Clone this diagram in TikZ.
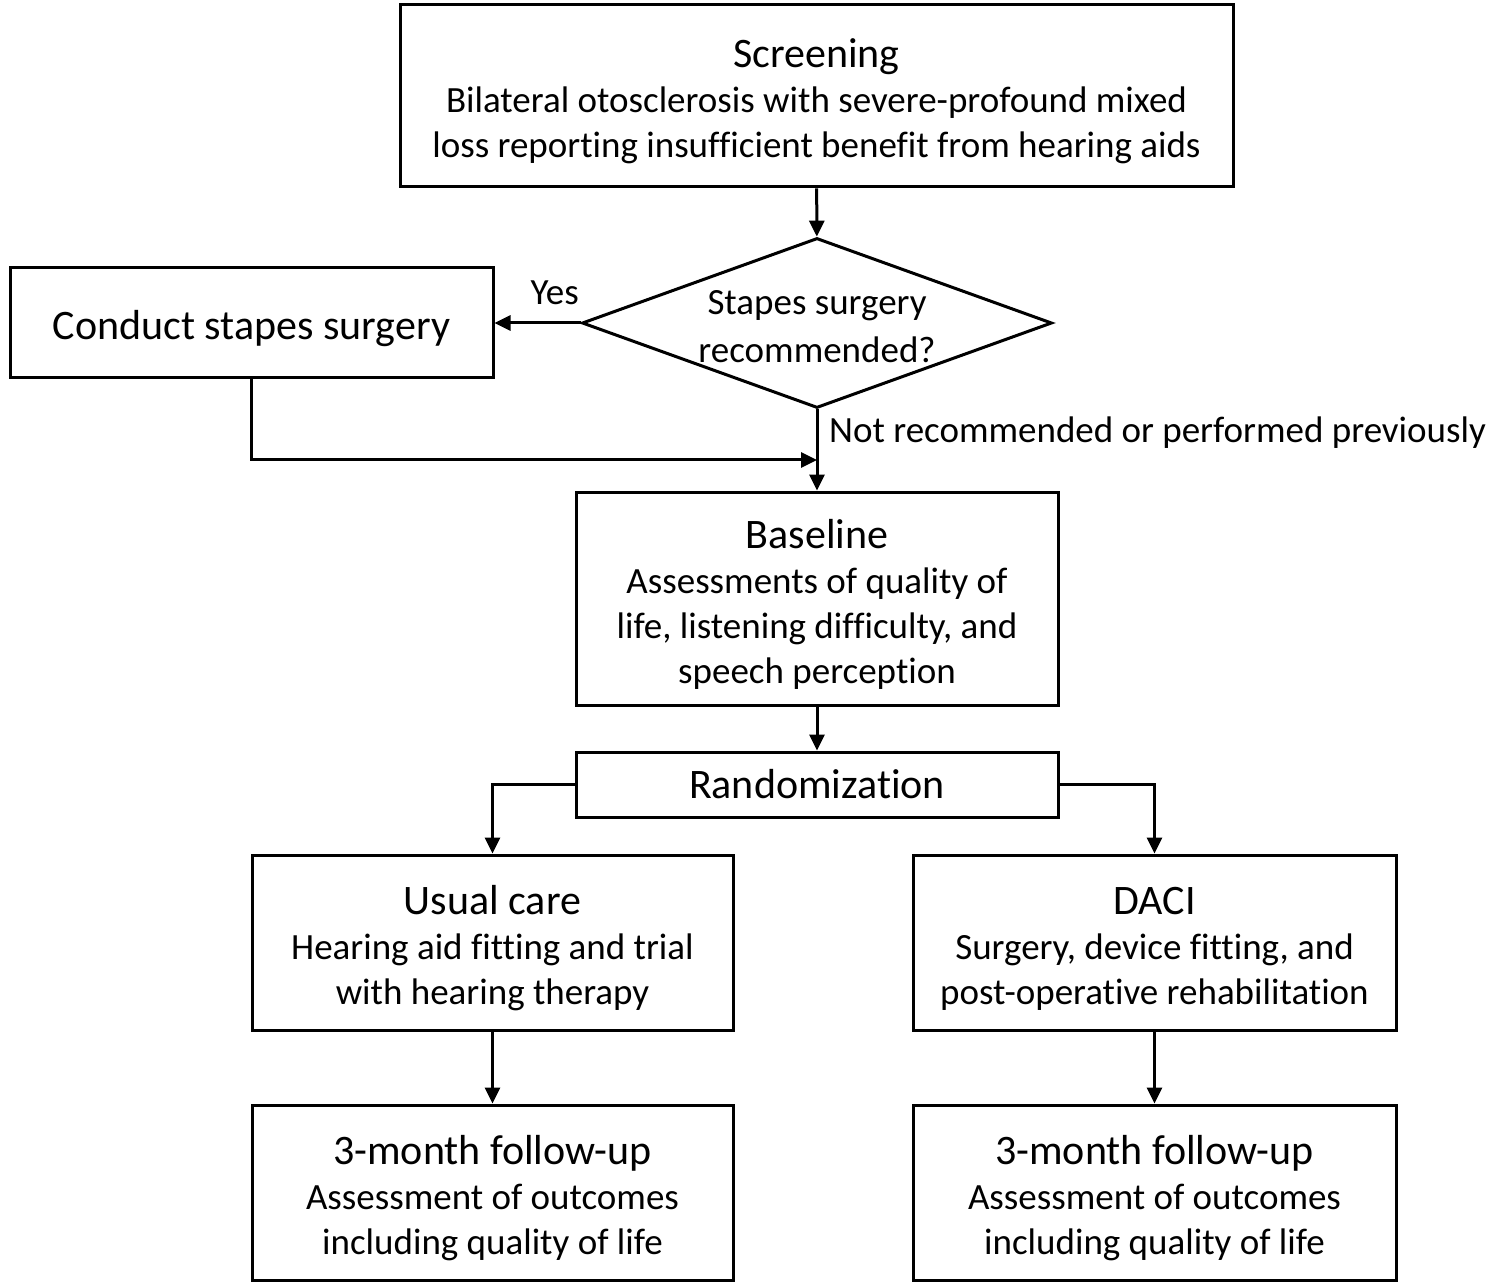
\documentclass[tikz,border=0pt]{standalone}
\usepackage{fontspec}
\setmainfont{Carlito}[Ligatures=NoCommon]
\usetikzlibrary{arrows.meta, shapes.geometric, positioning}

\newcommand{\hdfont}{\fontsize{21}{23}\selectfont}
\newcommand{\hd}[1]{{\hdfont\rule{0pt}{20pt}#1}}

\begin{document}
\begin{tikzpicture}[x=0.5pt, y=-0.5pt, >={Triangle[length=8pt,width=7.5pt]}, line width=1.5pt,
    txt/.style={font=\fontsize{18.5}{22.5}\selectfont},
    box/.style={draw, rectangle, inner sep=0pt, align=center, txt},
    decision/.style={draw, diamond, inner sep=0pt, aspect=2.76, minimum width=235pt, minimum height=85pt, align=center, font=\fontsize{18.5}{24}\selectfont}]
        \useasboundingbox (0,0) rectangle (1499,1283);
        \node[box, minimum width=416.5pt, minimum height=91pt] (scr) at (816.5,96)
            {\hd{Screening}\\Bilateral otosclerosis with severe-profound mixed\\loss reporting insufficient benefit from hearing aids};
        \node[decision] (dec) at (817,323) {\rule{0pt}{16pt}Stapes surgery\\recommended?};
        \node[box, minimum width=241.5pt, minimum height=55pt] (stp) at (251.5,323) {\hd{Conduct stapes surgery}};
        \node[box, minimum width=241pt, minimum height=106.5pt] (base) at (817,598.5)
            {\hd{Baseline}\\Assessments of quality of\\life, listening difficulty, and\\speech perception};
        \node[box, minimum width=241pt, minimum height=32.5pt, font=\hdfont] (rand) at (817,784.5) {Randomization};
        \node[box, minimum width=240.5pt, minimum height=87.5pt] (usual) at (492.5,942.5)
            {\hd{Usual care}\\Hearing aid fitting and trial\\with hearing therapy};
        \node[box, minimum width=241.5pt, minimum height=87.5pt] (daci) at (1154.5,942.5)
            {\hd{DACI}\\Surgery, device fitting, and\\post-operative rehabilitation};
        \node[box, minimum width=240.5pt, minimum height=87.5pt] (fuA) at (492.5,1192.5)
            {\hd{3-month follow-up}\\Assessment of outcomes\\including quality of life};
        \node[box, minimum width=241.5pt, minimum height=87.5pt] (fuB) at (1154.5,1192.5)
            {\hd{3-month follow-up}\\Assessment of outcomes\\including quality of life};
        \coordinate (join) at (817,460);

        \draw[->] (scr) -- (dec);
        \draw[->] (dec.west) -- node[pos=0.3, above=5pt, txt] (yes) {Yes} (stp.east);
        \draw[->] (stp.south) |- (join);
        \draw[->] (dec.south) -- node[pos=0.29, right, xshift=2pt, txt] (notrec) {Not recommended or performed previously} (base.north);
        \draw[->] (base) -- (rand);
        \draw[->] (rand.west) -| (usual.north);
        \draw[->] (rand.east) -| (daci.north);
        \draw[->] (usual) -- (fuA);
        \draw[->] (daci) -- (fuB);
    \end{tikzpicture}
\end{document}
